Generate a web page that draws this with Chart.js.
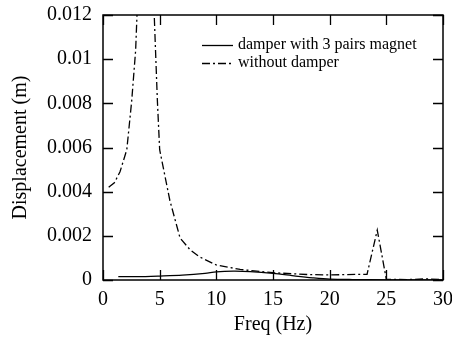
<!DOCTYPE html>
<html>
<head>
<meta charset="utf-8">
<script src="https://cdn.jsdelivr.net/npm/chart.js@4/dist/chart.umd.min.js"></script>
<style>
  html, body { margin: 0; padding: 0; background: #fff; }
  #wrap { width: 452px; height: 338px; }
</style>
</head>
<body>
<div id="wrap"><canvas id="chart" width="452" height="338"></canvas></div>
<script>
// data
const freqDamped   = [1.35, 3, 5, 7, 9, 10, 11.5, 13, 15, 17, 18.5, 20, 22, 25, 30];
const dispDamped   = [0.00015, 0.00015, 0.00018, 0.00022, 0.0003, 0.00037, 0.0004, 0.00038, 0.0003, 0.00018, 0.0001, 0.00004, 0.00002, 0.00001, 0.00001];

const freqFree     = [0.5, 1, 1.5, 2.1, 2.53, 2.88, 3.3, 3.8, 4.3, 4.52, 4.8, 5.0, 5.9, 6.8, 7.7, 8.5, 10, 12.1, 15, 18, 20, 23.3, 24.2, 25.0, 27, 28.5, 30];
const dispFree     = [0.0042, 0.0044, 0.0049, 0.0059, 0.0081, 0.0104, 0.016, 0.03, 0.016, 0.012, 0.0081, 0.0059, 0.0036, 0.0019, 0.00136, 0.00105, 0.00068, 0.00048, 0.00033, 0.00025, 0.00023, 0.00026, 0.00226, 0.00003, 0.00002, 0.00005, 0.00002];

const seriesLabels = ['damper with 3 pairs magnet', 'without damper'];
const xTicks = [0, 5, 10, 15, 20, 25, 30];
const yTicks = [0, 0.002, 0.004, 0.006, 0.008, 0.01, 0.012];

const FONT = '"Liberation Serif", "Times New Roman", serif';

function pts(xs, ys) { return xs.map((x, i) => ({ x, y: ys[i] })); }

//  frame with inward ticks on all four sides
const framePlugin = {
  id: 'frame',
  afterDraw(chart) {
    const { ctx, chartArea: a, scales } = chart;
    ctx.save();
    ctx.strokeStyle = '#000';
    ctx.lineWidth = 1.5;
    ctx.strokeRect(a.left, a.top, a.right - a.left, a.bottom - a.top);
    ctx.lineWidth = 1.3;
    const len = 10;
    ctx.beginPath();
    xTicks.forEach(v => {
      const px = Math.round(scales.x.getPixelForValue(v)) + 0.5;
      ctx.moveTo(px, a.bottom); ctx.lineTo(px, a.bottom - len);
      ctx.moveTo(px, a.top);    ctx.lineTo(px, a.top + len);
    });
    yTicks.forEach(v => {
      const py = Math.round(scales.y.getPixelForValue(v)) + 0.5;
      ctx.moveTo(a.left, py);  ctx.lineTo(a.left + len, py);
      ctx.moveTo(a.right, py); ctx.lineTo(a.right - len, py);
    });
    ctx.stroke();
    ctx.restore();
  }
};

//  legend inside the plot, upper right
const legendPlugin = {
  id: 'innerLegend',
  afterDraw(chart) {
    const { ctx } = chart;
    ctx.save();
    ctx.font = '16px ' + FONT;
    ctx.textBaseline = 'middle';
    ctx.fillStyle = '#000';
    chart.data.datasets.forEach((ds, i) => {
      const y = 45 + i * 18;
      ctx.beginPath();
      ctx.strokeStyle = '#000';
      ctx.lineWidth = 1.3;
      ctx.setLineDash(ds.borderDash || []);
      ctx.moveTo(202, y + 0.5); ctx.lineTo(233, y + 0.5);
      ctx.stroke();
      ctx.setLineDash([]);
      ctx.fillText(ds.label, 238, y);
    });
    ctx.restore();
  }
};

new Chart(document.getElementById('chart'), {
  type: 'line',
  data: {
    datasets: [
      {
        label: seriesLabels[0],
        data: pts(freqDamped, dispDamped),
        borderColor: '#000',
        borderWidth: 1.3,
        pointRadius: 0,
        tension: 0.3,
        fill: false
      },
      {
        label: seriesLabels[1],
        data: pts(freqFree, dispFree),
        borderColor: '#000',
        borderWidth: 1.3,
        borderDash: [8, 3, 2, 3],
        pointRadius: 0,
        tension: 0,
        fill: false
      }
    ]
  },
  options: {
    responsive: false,
    animation: false,
    layout: { padding: { top: 15, right: 9, left: 0, bottom: 0 } },
    plugins: { legend: { display: false }, tooltip: { enabled: false } },
    scales: {
      x: {
        type: 'linear',
        min: 0, max: 30,
        afterBuildTicks: s => { s.ticks = xTicks.map(v => ({ value: v })); },
        afterFit: s => { s.height = 58; s.paddingLeft = 0; s.paddingRight = 0; },
        grid: { display: false, drawTicks: false },
        border: { display: false },
        ticks: { color: '#000', padding: 8, font: { family: FONT, size: 20 }, maxRotation: 0 },
        title: { display: true, text: 'Freq (Hz)', color: '#000', font: { family: FONT, size: 20 }, padding: { top: 0, bottom: 1 } }
      },
      y: {
        type: 'linear',
        min: 0, max: 0.012,
        afterBuildTicks: s => { s.ticks = yTicks.map(v => ({ value: v })); },
        afterFit: s => { s.width = 103; s.paddingTop = 0; s.paddingBottom = 0; },
        grid: { display: false, drawTicks: false },
        border: { display: false },
        ticks: {
          color: '#000', padding: 11, font: { family: FONT, size: 20 },
          callback: v => String(+v.toFixed(3))
        },
        title: { display: true, text: 'Displacement (m)', color: '#000', font: { family: FONT, size: 20 }, padding: { top: 9, bottom: 0 } }
      }
    }
  },
  plugins: [framePlugin, legendPlugin]
});
</script>
</body>
</html>
